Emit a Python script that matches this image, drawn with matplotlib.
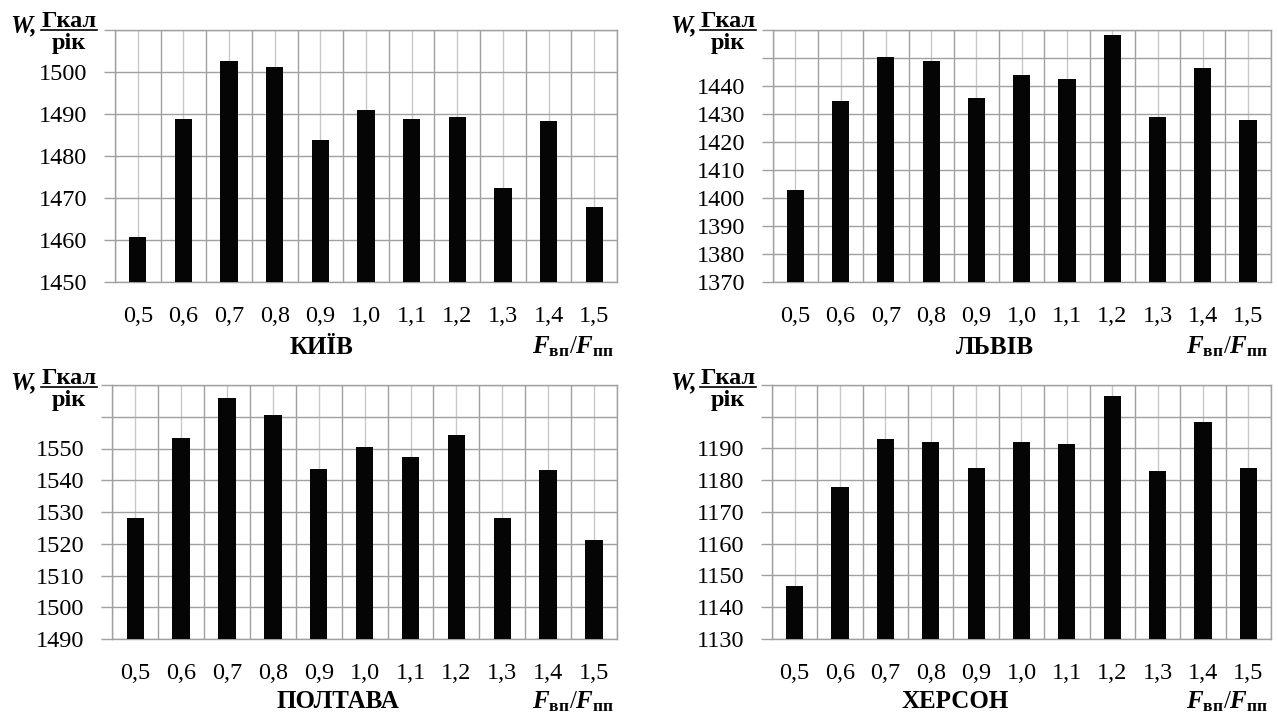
import numpy as np
import matplotlib
matplotlib.use('Agg')
from matplotlib import pyplot as plt
from matplotlib.lines import Line2D

plt.rcParams['font.family'] = ['Liberation Serif', 'DejaVu Serif']
plt.rcParams['mathtext.fontset'] = 'custom'
plt.rcParams['mathtext.rm'] = 'Liberation Serif'
plt.rcParams['mathtext.it'] = 'Liberation Serif:italic'
plt.rcParams['mathtext.bf'] = 'Liberation Serif:bold'
plt.rcParams['mathtext.bfit'] = 'Liberation Serif:bold:italic'

# дані
ratio = ['0,5', '0,6', '0,7', '0,8', '0,9', '1,0', '1,1', '1,2', '1,3', '1,4', '1,5']
kyiv = [1460.7, 1488.7, 1502.5, 1501.0, 1483.7, 1491.0, 1488.7, 1489.2, 1472.5, 1488.4, 1467.9]
lviv = [1402.8, 1434.7, 1450.2, 1448.9, 1435.6, 1443.8, 1442.5, 1458.1, 1429.1, 1446.5, 1427.8]
poltava = [1528.2, 1553.4, 1566.0, 1560.7, 1543.6, 1550.5, 1547.3, 1554.1, 1528.2, 1543.3, 1521.2]
kherson = [1146.6, 1177.9, 1192.9, 1191.9, 1184.0, 1191.9, 1191.4, 1206.4, 1182.8, 1198.2, 1184.0]
cities = ['КИЇВ', 'ЛЬВІВ', 'ПОЛТАВА', 'ХЕРСОН']
# (нижня межа, верхня межа, остання підписана позначка)
y_limits = [(1450, 1510, 1500), (1370, 1460, 1440), (1490, 1570, 1550), (1130, 1210, 1190)]

W, H = 1278, 714
fig = plt.figure(figsize=(W / 100, H / 100), dpi=100)


def px(x, y):
    return x / W, 1 - y / H


# положення панелей у пікселях: ліво, верх, право, низ
boxes = [(115, 29.5, 617, 282.3), (772.7, 30, 1270.7, 282), (112.3, 385, 617, 639), (772, 385, 1271, 639)]
# підпис одиниць: x початку W, центр дробу, y риски
units = [(10, 69, 30), (670, 728, 30), (10, 69, 387), (670, 728, 387)]
# назва міста: центр x, y
titles = [(322, 347), (995, 347), (338, 702), (955, 702)]

data = [kyiv, lviv, poltava, kherson]
x = np.arange(len(ratio))

for i in range(4):
    l, t, r, b = boxes[i]
    x0, y1 = px(l, t)
    x1, y0 = px(r, b)
    ax = fig.add_axes([x0, y0, x1 - x0, y1 - y0])
    ax.bar(x, np.array(data[i]) - y_limits[i][0], bottom=y_limits[i][0], width=0.38,
           color='#050505', zorder=3)
    lo, hi, last = y_limits[i]
    ax.set_ylim(lo, hi)
    ax.set_xlim(-0.5, len(ratio) - 0.5)
    yt = np.arange(lo, hi + 1, 10)
    ax.set_yticks(yt)
    ax.set_yticklabels([str(v) if v <= last else '' for v in yt])
    ax.set_xticks(x)
    ax.set_xticklabels(ratio)
    ax.set_xticks(np.arange(-0.5, len(ratio), 1), minor=True)
    ax.tick_params(axis='y', length=8, color='#a0a0a0', width=1, pad=12, labelsize=17.5)
    ax.tick_params(axis='x', which='both', length=0, pad=17, labelsize=17.5)
    ax.grid(axis='y', color='#a0a0a0', linewidth=1, zorder=0)
    ax.grid(axis='x', which='major', color='#c8c8c8', linewidth=1, zorder=0)
    ax.grid(axis='x', which='minor', color='#a0a0a0', linewidth=1, zorder=0)
    ax.set_axisbelow(True)
    for s in ax.spines.values():
        s.set_color('#a0a0a0')
        s.set_linewidth(1)

    # підпис осі Y
    wx, cx, ly = units[i]
    fig.text(*px(wx, ly + 2), 'W,', fontsize=18, fontweight='bold', fontstyle='italic',
             ha='left', va='baseline')
    fig.text(*px(cx, ly - 3), 'Гкал', fontsize=17.5, fontweight='bold', ha='center', va='baseline')
    fig.text(*px(cx, ly + 3), 'рік', fontsize=17.5, fontweight='bold', ha='center', va='top')
    lx0, ly0 = px(cx - 28, ly)
    lx1, _ = px(cx + 28, ly)
    fig.add_artist(Line2D([lx0, lx1], [ly0, ly0], color='black', linewidth=1.2,
                          transform=fig.transFigure))

    # назва міста та підпис осі X
    tx, ty = titles[i]
    fig.text(*px(tx, ty), cities[i], fontsize=18, fontweight='bold', ha='center', va='center')
    fig.text(*px(r - 2, ty + 6), r'$\mathbfit{F}_{\mathbf{вп}}/\mathbfit{F}_{\mathbf{пп}}$',
             fontsize=18, ha='right', va='baseline')

fig.savefig('out.png', dpi=100)
